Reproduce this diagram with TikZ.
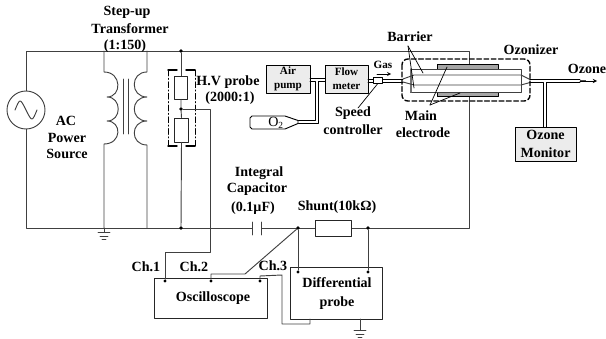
\documentclass[tikz,border=0pt]{standalone}
\usepackage{fontspec}
\setmainfont{Liberation Serif}
\usetikzlibrary{arrows}
\definecolor{boxgray}{RGB}{236,236,236}
\definecolor{elecgray}{RGB}{165,165,165}
\tikzset{
  wire/.style={line width=0.8pt,draw=black!75},
  tube/.style={draw=black,line width=0.7pt},
  lbl/.style={font=\fontsize{12}{12}\selectfont\bfseries,inner sep=0pt},
  smalllbl/.style={font=\fontsize{9.5}{10}\selectfont\bfseries,inner sep=0pt},
  box/.style={draw=black!85,line width=0.8pt,text=black,inner sep=0pt},
  graybox/.style={rectangle,draw=black,line width=0.8pt,fill=boxgray,inner sep=0pt},
  electrode/.style={draw=black,line width=0.6pt,fill=elecgray,inner sep=0pt},
  dot/.style={circle,fill=black,inner sep=0pt,minimum size=3.2pt},
  pin/.style={circle,fill=black,inner sep=0pt,minimum size=2.6pt}
}
\begin{document}
\begin{tikzpicture}[line cap=round,line join=round,>=triangle 45,x=0.03cm,y=-0.03cm]
\useasboundingbox (0,0) rectangle (606,339);

% source and mains
\node [circle,wire,minimum size=38*0.03cm,inner sep=0pt] (source) at (26,110) {};
\draw [wire] (source.center) ++(-11,0) .. controls ++(5,-12) and ++(-6,-12) .. ++(11,0) .. controls ++(6,12) and ++(-5,12) .. ++(11,0);
\coordinate (topleft) at (26,51);
\coordinate (botleft) at (26,228);
\coordinate (topright) at (469,51);
\coordinate (botright) at (469,228);
\coordinate (topelec) at (469,65);
\coordinate (botelec) at (469,97);
\draw [wire] (source.north) -- (topleft) -- (topright) -- (topelec);
\draw [wire] (source.south) -- (botleft) -- (botright) -- (botelec);

% transformer
\coordinate (pritop) at (104,51);
\coordinate (pribot) at (104,228);
\coordinate (sectop) at (147,51);
\coordinate (secbot) at (147,228);
\draw [wire] (pritop) -- (104,72) .. controls (122,72) and (122,97) .. (107,97)
  .. controls (122,97) and (122,121) .. (107,121)
  .. controls (122,121) and (122,144) .. (104,144) -- (pribot);
\draw [wire] (sectop) -- (147,72) .. controls (130,72) and (130,97) .. (147,97)
  .. controls (130,97) and (130,121) .. (147,121)
  .. controls (130,121) and (130,145) .. (147,145) -- (secbot);
\draw [wire] (123,79) -- (123,134);
\draw [wire] (128,79) -- (128,134);

% ground of primary
\coordinate (gnda) at (104,232);
\draw [wire] (pribot) -- (gnda);
\draw [wire] (98,232) -- (110,232);
\draw [wire] (100,236) -- (108,236);
\draw [wire] (102,239) -- (106,239);

% H.V probe
\node [dot] (hvtop) at (181,51) {};
\node [dot] (hvmid) at (181,109) {};
\node [dot] (hvbot) at (181,228) {};
\node [box,fill=white,minimum width=13.5*0.03cm,minimum height=23*0.03cm] (rup) at (181,87.5) {};
\node [box,fill=white,minimum width=14*0.03cm,minimum height=24*0.03cm] (rlow) at (181.5,130) {};
\draw [wire] (hvtop) -- (rup.north);
\draw [wire] (rup.south) -- (hvmid) -- (rlow.north);
\draw [wire] (rlow.south) -- (hvbot);
\draw [line width=1.2pt] (168,70) -- (177,70) (186,70) -- (195,70);
\draw [line width=1.2pt] (168,146) -- (177,146) (186,146) -- (195,146);
\draw [line width=0.7pt,dash pattern=on 5pt off 2pt on 1pt off 2pt] (168,70) -- (168,146);
\draw [line width=0.7pt,dash pattern=on 5pt off 2pt on 1pt off 2pt] (195,70) -- (195,146);

% capacitor and shunt
\node [fill=white,minimum width=8*0.03cm,minimum height=8*0.03cm,inner sep=0pt] (capgap) at (256.5,228) {};
\draw [wire] (252.5,222) -- (252.5,235);
\draw [wire] (261,222) -- (261,235);
\node [box,fill=white,minimum width=36*0.03cm,minimum height=16*0.03cm] (shunt) at (333,228) {};
\node [dot] (shl) at (298,228) {};
\node [dot] (shr) at (368,228) {};

% oscilloscope and differential probe
\node [box,minimum width=113*0.03cm,minimum height=40*0.03cm] (scope) at (210.5,298) {};
\node [lbl] (scopetxt) at (213,298) {Oscilloscope};
\node [box,minimum width=92*0.03cm,minimum height=52*0.03cm] (diff) at (336,293) {};
\node [lbl,align=center] (difftxt) at (337,293.5) {Differential\\[4pt]probe};
\node [pin] (ch1) at (165,281) {};
\node [pin] (ch2) at (211,281) {};
\node [pin] (ch3) at (260,281) {};
\node [pin] (dl) at (298,272) {};
\node [pin] (dr) at (368,272) {};
\draw [wire] (hvmid) -- (210,109) -- (210,252) -- (165,252) -- (ch1);
\draw [wire] (ch2) -- (211,274) -- (245,274) -- (shl);
\draw [wire] (ch3) -- (260,276) -- (282,275) -- (282,324) -- (310,324) -- (310,319);
\draw [wire] (shl) -- (dl);
\draw [wire] (shr) -- (dr);
\coordinate (gndb) at (360,330);
\draw [wire] (360,319) -- (gndb);
\draw [wire] (354,330) -- (366,330);
\draw [wire] (356,334) -- (364,334);
\draw [wire] (358,337) -- (362,337);

% gas line
\node [graybox,minimum width=44*0.03cm,minimum height=28*0.03cm] (air) at (288,79) {};
\node [smalllbl,align=center] (airtxt) at (288,79) {Air\\[2pt]pump};
\node [graybox,minimum width=43*0.03cm,minimum height=28*0.03cm] (flow) at (346.5,79) {};
\node [smalllbl,align=center] (flowtxt) at (346.5,79) {Flow\\[2pt]meter};
\draw [tube] (310,78.5) -- (325,78.5);
\draw [tube] (310,81.5) -- (315.5,81.5) -- (315.5,120.5) -- (298,120.5);
\draw [tube] (325,81.5) -- (318.5,81.5) -- (318.5,123.5) -- (298,123.5);
\draw [tube] (368,79) -- (403,79);
\draw [tube] (368,82) -- (403,82);
\node [draw=black,line width=0.7pt,inner sep=0pt,minimum width=9*0.03cm,minimum height=6*0.03cm,fill=white] (speed) at (377.5,80.5) {};
\draw [draw=black,line width=0.8pt,fill=white] (252,116) -- (285,116) -- (298,120.5) -- (298,123.5) -- (285,129) -- (252,129) -- (250,127) -- (250,118) -- cycle;
\node [font=\fontsize{12}{12}\selectfont,inner sep=0pt] (oxy) at (276,122.5) {O\textsubscript{2}};
\draw [->,line width=0.5pt,>=stealth] (377,74) -- (391,74);
\draw [line width=0.6pt] (speed.south) -- (358,108);

% ozonizer
\node [electrode,minimum width=61*0.03cm,minimum height=4.5*0.03cm] (etop) at (467.5,67) {};
\node [electrode,minimum width=61*0.03cm,minimum height=4.5*0.03cm] (ebot) at (467.5,94.5) {};
\draw [wire,fill=white] (410,69) rectangle (521,92);
\draw [line width=1.4pt,color=black!55] (411,69) -- (411,92);
\draw [wire] (403,79) -- (414,75) -- (521,75) -- (530,79.5);
\draw [wire] (403,82) -- (414,85) -- (521,85) -- (530,82.5);
\draw [line width=1.2pt,dash pattern=on 4pt off 2.2pt,rounded corners=5pt] (402,59) rectangle (530,101);
\draw [line width=0.6pt] (408,46) -- (423,73);
\draw [line width=0.6pt] (408,46) -- (414,88);
\draw [line width=0.6pt] (430,105) -- (447,67);
\draw [line width=0.6pt] (430,105) -- (460,93);

% ozone outlet
\node [graybox,minimum width=61*0.03cm,minimum height=34*0.03cm] (monitor) at (545.5,144) {};
\node [lbl,align=center] (monitortxt) at (545.5,144) {Ozone\\[4pt]Monitor};
\coordinate (outlet) at (580,81);
\draw [tube] (530,79.5) -- (580,79.5);
\draw [tube] (530,82.5) -- (543.5,82.5) -- (543.5,127);
\draw [tube] (580,82.5) -- (546.5,82.5) -- (546.5,127);
\draw [line width=2.2pt,color=black!70,line cap=butt] (580,81) -- (586,81);
\coordinate (tip) at (597,81);
\draw [->,line width=0.6pt,>=stealth] (outlet) -- (tip);

% labels
\node [lbl] (stepup) at (127,12) {Step-up};
\node [lbl] (trafo) at (130,29) {Transformer};
\node [lbl] (ratio) at (125,46) {(1:150)};
\node [lbl] (ac) at (66,121) {AC};
\node [lbl] (power) at (67,138) {Power};
\node [lbl] (src) at (67,154) {Source};
\node [lbl] (hv) at (228,82) {H.V probe};
\node [lbl] (hvratio) at (230,98) {(2000:1)};
\node [smalllbl] (gas) at (383,65) {Gas};
\node [lbl] (speedtxt) at (353,113) {Speed};
\node [lbl] (ctrl) at (353,130) {controller};
\node [lbl] (barrier) at (410,37) {Barrier};
\node [lbl] (ozonizer) at (531,50) {Ozonizer};
\node [lbl] (ozone) at (587,69) {Ozone};
\node [lbl] (maintxt) at (421,116) {Main};
\node [lbl] (electrodetxt) at (423,133) {electrode};
\node [lbl] (integral) at (259,173) {Integral};
\node [lbl] (captxt) at (257,189) {Capacitor};
\node [lbl] (capval) at (253,208) {(0.1µF)};
\node [lbl] (shunttxt) at (337,207) {Shunt(10kΩ)};
\node [lbl] (chone) at (146,267) {Ch.1};
\node [lbl] (chtwo) at (194,267) {Ch.2};
\node [lbl] (chthree) at (273,266) {Ch.3};
\end{tikzpicture}
\end{document}
